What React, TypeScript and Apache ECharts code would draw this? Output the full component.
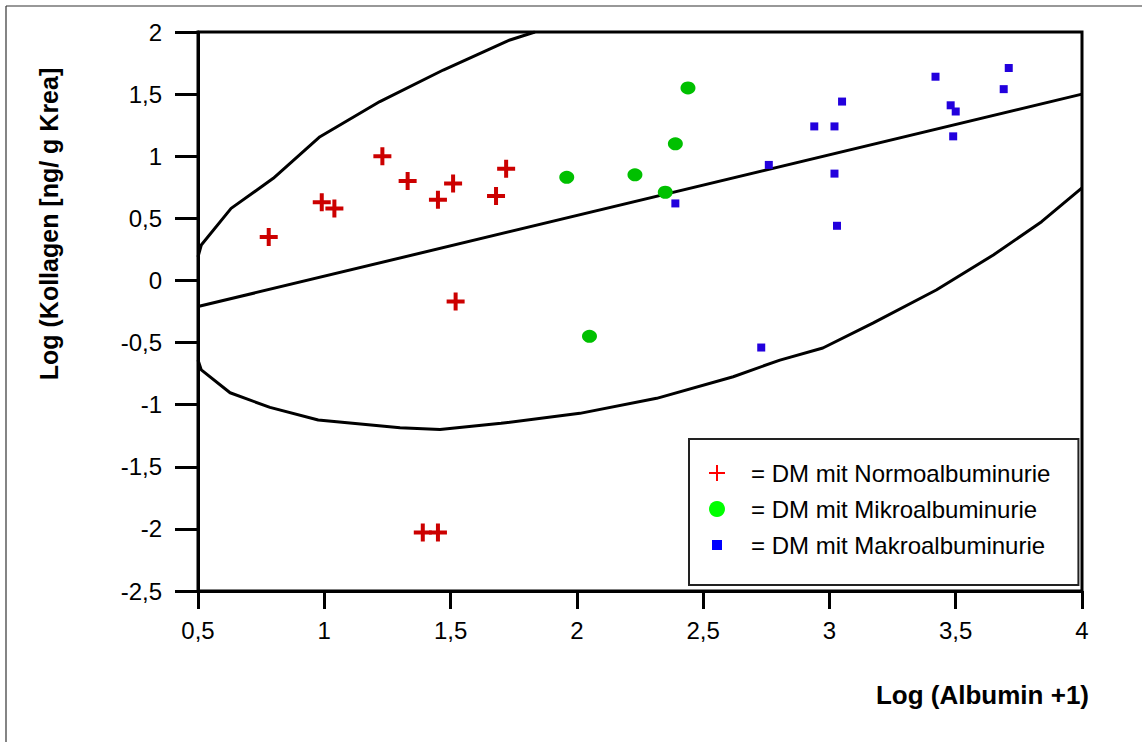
import React, { useEffect, useRef } from "react";
import * as echarts from "echarts";

// Scatter groups: [Log(Albumin+1), Log(Kollagen)]
const normoalbuminurie: number[][] = [
  [0.78, 0.35], [0.99, 0.63], [1.04, 0.58], [1.23, 1.0], [1.33, 0.8],
  [1.45, 0.65], [1.51, 0.78], [1.68, 0.68], [1.72, 0.9], [1.52, -0.17],
  [1.39, -2.03], [1.45, -2.03],
];
const mikroalbuminurie: number[][] = [
  [1.96, 0.83], [2.05, -0.45], [2.23, 0.85], [2.35, 0.71], [2.39, 1.1], [2.44, 1.55],
];
const makroalbuminurie: number[][] = [
  [2.39, 0.62], [2.73, -0.54], [2.76, 0.93], [2.94, 1.24], [3.02, 1.24], [3.02, 0.86],
  [3.03, 0.44], [3.05, 1.44], [3.42, 1.64], [3.48, 1.41], [3.5, 1.36], [3.49, 1.16],
  [3.69, 1.54], [3.71, 1.71],
];
// Regression line and confidence curves
const regression: number[][] = [[0.5, -0.21], [4.0, 1.5]];
const upperBand: number[][] = [
  [0.5, 0.19], [0.513, 0.285], [0.631, 0.58], [0.798, 0.822], [0.983, 1.157],
  [1.22, 1.44], [1.471, 1.694], [1.735, 1.936], [1.834, 2.0],
];
const lowerBand: number[][] = [
  [0.5, -0.64], [0.513, -0.72], [0.627, -0.904], [0.785, -1.022], [0.976, -1.124],
  [1.3, -1.186], [1.458, -1.199], [1.7, -1.15], [2.012, -1.07], [2.316, -0.949],
  [2.619, -0.775], [2.804, -0.641], [2.974, -0.544], [3.172, -0.343], [3.423, -0.077],
  [3.649, 0.205], [3.84, 0.473], [4.0, 0.746],
];

const seriesNames = [
  "= DM mit Normoalbuminurie",
  "= DM mit Mikroalbuminurie",
  "= DM mit Makroalbuminurie",
];
const xTitle = "Log (Albumin +1)";
const yTitle = "Log (Kollagen [ng/ g Krea]";

const FONT = "'Liberation Sans', Arial, Helvetica, sans-serif";
const CROSS_THICK = "path://M7,0H11V7H18V11H11V18H7V11H0V7H7Z";
const CROSS_THIN = "path://M7,0H9V7H16V9H9V16H7V9H0V7H7Z";
const SMALL_SQUARE = "path://M0,0M16,16M3,3H13V13H3Z";

const fmt = (v: number) => String(v).replace(".", ",");

export default function App() {
  const ref = useRef<HTMLDivElement>(null);
  useEffect(() => {
    const chart = echarts.init(ref.current!, null, { renderer: "svg" });
    const bandLine = (name: string, data: number[][]) => ({
      name,
      type: "line",
      data,
      showSymbol: false,
      symbol: "none",
      silent: true,
      lineStyle: { color: "#000", width: 3 },
      z: 1,
    });
    chart.setOption({
      animation: false,
      backgroundColor: "#fff",
      grid: {
        left: 198,
        top: 32,
        right: 60,
        bottom: 151,
        show: true,
        borderColor: "#000",
        borderWidth: 3,
        backgroundColor: "transparent",
      },
      xAxis: {
        type: "value",
        min: 0.5,
        max: 4,
        interval: 0.5,
        axisLine: { onZero: false, lineStyle: { color: "#000", width: 3 } },
        axisTick: { show: true, inside: false, length: 18, lineStyle: { color: "#000", width: 3 } },
        splitLine: { show: false },
        axisLabel: { color: "#000", fontSize: 24, fontFamily: FONT, margin: 27, formatter: fmt },
      },
      yAxis: {
        type: "value",
        min: -2.5,
        max: 2,
        interval: 0.5,
        axisLine: { onZero: false, lineStyle: { color: "#000", width: 3 } },
        axisTick: { show: true, inside: false, length: 23, lineStyle: { color: "#000", width: 3 } },
        splitLine: { show: false },
        axisLabel: { color: "#000", fontSize: 24, fontFamily: FONT, margin: 36, formatter: fmt },
      },
      legend: {
        orient: "vertical",
        left: 689,
        top: 439,
        borderColor: "#222",
        borderWidth: 2,
        padding: [22, 28, 28, 20],
        itemGap: 12,
        itemWidth: 16,
        itemHeight: 16,
        selectedMode: false,
        textStyle: { color: "#000", fontSize: 24, fontFamily: FONT, padding: [0, 0, 0, 21] },
        data: [
          { name: seriesNames[0], icon: CROSS_THIN, itemStyle: { color: "#ff0000", opacity: 1 } },
          { name: seriesNames[1], icon: "circle", itemStyle: { color: "#00ff00", opacity: 1 } },
          { name: seriesNames[2], icon: SMALL_SQUARE, itemStyle: { color: "#0000ff", opacity: 1 } },
        ],
      },
      graphic: [
        { type: "line", shape: { x1: 6, y1: 6, x2: 1142, y2: 6 }, style: { stroke: "#333", lineWidth: 1.2 } },
        { type: "line", shape: { x1: 6, y1: 6, x2: 6, y2: 742 }, style: { stroke: "#333", lineWidth: 1.2 } },
        {
          type: "text",
          x: 49,
          y: 224,
          rotation: Math.PI / 2,
          style: {
            text: yTitle,
            font: `bold 25px ${FONT}`,
            fill: "#000",
            align: "center",
            verticalAlign: "middle",
          },
        },
        {
          type: "text",
          x: 1089,
          y: 695,
          style: {
            text: xTitle,
            font: `bold 26px ${FONT}`,
            fill: "#000",
            align: "right",
            verticalAlign: "middle",
          },
        },
      ],
      series: [
        bandLine("upper", upperBand),
        bandLine("regression", regression),
        bandLine("lower", lowerBand),
        {
          name: seriesNames[0],
          type: "scatter",
          data: normoalbuminurie,
          symbol: CROSS_THICK,
          symbolSize: 18,
          itemStyle: { color: "#cc0000", opacity: 1 },
          z: 3,
        },
        {
          name: seriesNames[1],
          type: "scatter",
          data: mikroalbuminurie,
          symbol: "circle",
          symbolSize: [15, 13],
          itemStyle: { color: "#00c000", opacity: 1 },
          z: 3,
        },
        {
          name: seriesNames[2],
          type: "scatter",
          data: makroalbuminurie,
          symbol: "rect",
          symbolSize: 8,
          itemStyle: { color: "#2200dd", opacity: 1 },
          z: 3,
        },
      ],
    });
    return () => chart.dispose();
  }, []);
  return (
    <div
      ref={ref}
      style={{ position: "absolute", left: 0, top: 0, width: 1142, height: 742, background: "#fff" }}
    />
  );
}
